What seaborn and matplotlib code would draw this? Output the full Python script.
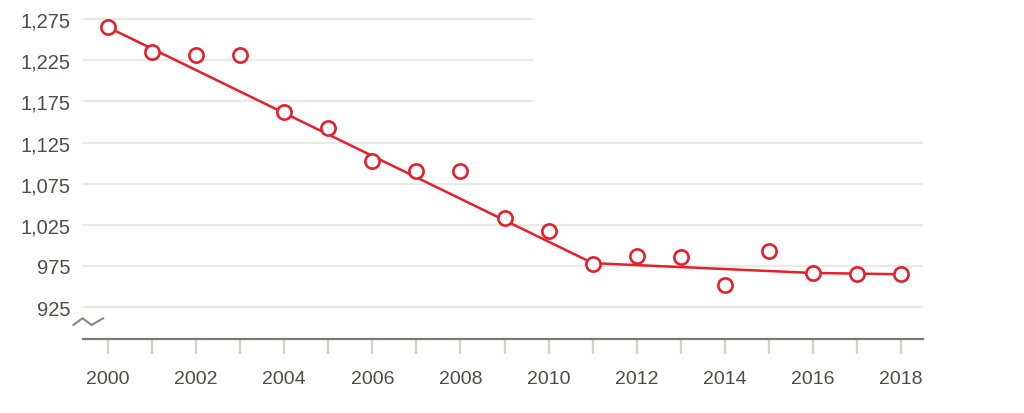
import matplotlib
matplotlib.use("Agg")
import matplotlib.pyplot as plt
from matplotlib.patches import Rectangle
import seaborn as sns
import pandas as pd

# yearly values (circles)
years = [2000, 2001, 2002, 2003, 2004, 2005, 2006, 2007, 2008, 2009,
         2010, 2011, 2012, 2013, 2014, 2015, 2016, 2017, 2018]
values = [1265, 1235, 1231, 1231, 1162, 1143, 1103, 1091, 1091, 1033,
          1017, 978, 987, 986, 952, 993, 967, 965, 965]

# fitted trend (joinpoints)
trend_years = [2000, 2011, 2016, 2018]
trend_values = [1265, 978.5, 966.5, 965]

ytick_vals = [925, 975, 1025, 1075, 1125, 1175, 1225, 1275]
xtick_labels = [2000, 2002, 2004, 2006, 2008, 2010, 2012, 2014, 2016, 2018]

red = "#e4202c"
grid_col = "#ebe9e4"
axis_col = "#7d7873"
tick_col = "#d6d2ca"
text_col = "#4f4c4a"

sns.set_theme(style="white")
plt.rcParams['font.family'] = ['Liberation Sans', 'DejaVu Sans']

df = pd.DataFrame({"year": years, "value": values})
trend = pd.DataFrame({"year": trend_years, "value": trend_values})

fig = plt.figure(figsize=(10.24, 4.14), dpi=100)
ax = fig.add_axes([83 / 1024, 74 / 414, 840 / 1024, 340 / 414])

sns.lineplot(data=trend, x="year", y="value", ax=ax, color=red,
             linewidth=1.8, zorder=3)
sns.scatterplot(data=df, x="year", y="value", ax=ax, marker="o", s=105,
                facecolor="white", edgecolor=red, linewidth=1.9, zorder=4)

ax.set_xlim(1999.43, 2018.5)
ax.set_ylim(886.3, 1299.4)

ax.set_yticks(ytick_vals)
ax.set_yticklabels([f"{v:,}" for v in ytick_vals])
ax.set_xticks(years)
ax.set_xticklabels([str(y) if y in xtick_labels else "" for y in years])

for v in ytick_vals:
    ax.axhline(v, color=grid_col, linewidth=1.6, zorder=0)

# blank area in the upper right
ax.add_patch(Rectangle((0.536, 0.655), 0.5, 0.4, transform=ax.transAxes,
                       facecolor="white", edgecolor="none", zorder=1))

for s in ["top", "right", "left"]:
    ax.spines[s].set_visible(False)
ax.spines["bottom"].set_color(axis_col)
ax.spines["bottom"].set_linewidth(1.6)
ax.spines["bottom"].set_zorder(5)

ax.tick_params(axis="x", bottom=True, direction="out", length=11, width=1.7,
               color=tick_col, pad=11.5, labelsize=14, labelcolor=text_col)
ax.tick_params(axis="y", left=False, length=0, pad=9, labelsize=14.5,
               labelcolor=text_col)
ax.set_xlabel("")
ax.set_ylabel("")

# axis break mark
ax.plot([-0.0117, -0.0005, 0.0102, 0.0242], [0.041, 0.061, 0.041, 0.061],
        transform=ax.transAxes, color="#8a8580", linewidth=1.5,
        clip_on=False, zorder=6)

fig.savefig("out.png", dpi=100)
